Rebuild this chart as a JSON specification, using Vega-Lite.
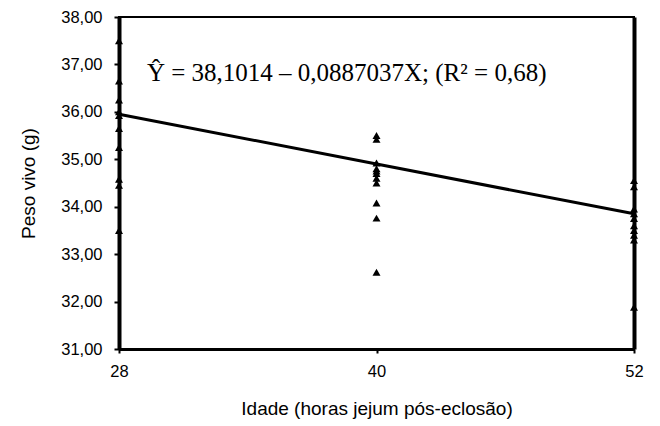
{
  "$schema": "https://vega.github.io/schema/vega-lite/v6.json",
  "width": 515,
  "height": 332,
  "autosize": "none",
  "padding": {"left": 119, "top": 17, "right": 26, "bottom": 77},
  "background": "white",
  "config": {
    "view": {"stroke": "black", "strokeWidth": 2},
    "axis": {
      "labelFont": "Liberation Sans",
      "titleFont": "Liberation Sans",
      "labelFontSize": 16.5,
      "titleFontSize": 19,
      "titleFontWeight": "normal",
      "labelColor": "black",
      "titleColor": "black",
      "domainColor": "black",
      "domainWidth": 3.5,
      "tickColor": "black",
      "tickWidth": 2,
      "grid": false,
      "labelFlush": false
    }
  },
  "resolve": {"axis": {"y": "independent"}},
  "datasets": {
    "pts": [
      {"idade": 28, "peso": 37.5},
      {"idade": 28, "peso": 36.65},
      {"idade": 28, "peso": 36.25},
      {"idade": 28, "peso": 36.0},
      {"idade": 28, "peso": 35.92},
      {"idade": 28, "peso": 35.65},
      {"idade": 28, "peso": 35.25},
      {"idade": 28, "peso": 34.58},
      {"idade": 28, "peso": 34.45},
      {"idade": 28, "peso": 33.5},
      {"idade": 40, "peso": 35.5},
      {"idade": 40, "peso": 35.42},
      {"idade": 40, "peso": 34.92},
      {"idade": 40, "peso": 34.8},
      {"idade": 40, "peso": 34.75},
      {"idade": 40, "peso": 34.7},
      {"idade": 40, "peso": 34.6},
      {"idade": 40, "peso": 34.5},
      {"idade": 40, "peso": 34.08},
      {"idade": 40, "peso": 33.76},
      {"idade": 40, "peso": 32.62},
      {"idade": 52, "peso": 34.55},
      {"idade": 52, "peso": 34.42},
      {"idade": 52, "peso": 33.95},
      {"idade": 52, "peso": 33.85},
      {"idade": 52, "peso": 33.75},
      {"idade": 52, "peso": 33.6},
      {"idade": 52, "peso": 33.5},
      {"idade": 52, "peso": 33.4},
      {"idade": 52, "peso": 33.3},
      {"idade": 52, "peso": 31.88}
    ],
    "fit": [
      {"idade": 28, "peso": 35.95},
      {"idade": 52, "peso": 33.85}
    ],
    "eq": [
      {"label": "Ŷ = 38,1014 – 0,0887037X; (R² = 0,68)"}
    ]
  },
  "layer": [
    {
      "data": {"name": "pts"},
      "mark": {"type": "point", "shape": "triangle-up", "filled": true, "color": "black", "size": 64, "opacity": 1},
      "encoding": {
        "x": {
          "field": "idade", "type": "quantitative",
          "scale": {"domain": [28, 52], "nice": false, "zero": false},
          "axis": {"values": [28, 40, 52], "title": "Idade (horas jejum pós-eclosão)", "tickSize": 4, "labelPadding": 10, "titlePadding": 20, "format": "d", "domainWidth": 3}
        },
        "y": {
          "field": "peso", "type": "quantitative",
          "scale": {"domain": [31, 38], "nice": false, "zero": false},
          "axis": {
            "values": [31, 32, 33, 34, 35, 36, 37, 38],
            "title": "Peso vivo (g)",
            "tickSize": 5,
            "labelPadding": 12,
            "titlePadding": 22,
            "domainWidth": 4,
            "labelExpr": "replace(format(datum.value, '.2f'), '.', ',')"
          }
        }
      }
    },
    {
      "data": {"name": "fit"},
      "mark": {"type": "line", "color": "black", "strokeWidth": 3},
      "encoding": {
        "x": {"field": "idade", "type": "quantitative"},
        "y": {
          "field": "peso", "type": "quantitative",
          "axis": {"orient": "right", "labels": false, "ticks": false, "title": null, "domainWidth": 4}
        }
      }
    },
    {
      "data": {"name": "eq"},
      "mark": {"type": "text", "font": "Liberation Serif", "fontSize": 25, "align": "left", "baseline": "middle", "color": "black"},
      "encoding": {
        "x": {"datum": 29.3, "type": "quantitative"},
        "y": {"datum": 36.82, "type": "quantitative", "axis": null},
        "text": {"field": "label"}
      }
    }
  ]
}
